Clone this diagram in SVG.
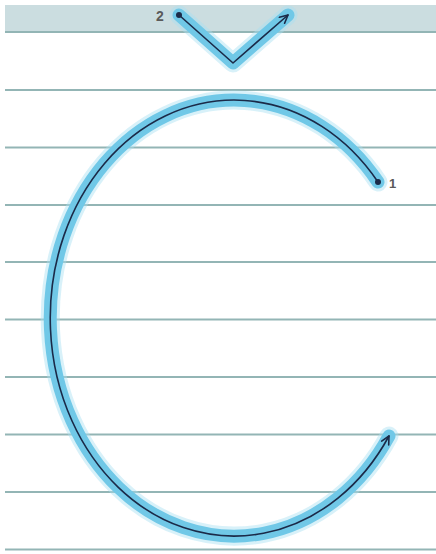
<svg xmlns="http://www.w3.org/2000/svg" width="436" height="554" viewBox="0 0 436 554">
<style>
.rule{stroke:#93b5b5;stroke-width:2;fill:none}
.halo{stroke:#a9dff2;stroke-width:19;fill:none;stroke-linecap:round;stroke-linejoin:round;opacity:0.45}
.glow{stroke:#70c8e7;stroke-width:13;fill:none;stroke-linecap:round;stroke-linejoin:round}
.ink{stroke:#1b2a48;stroke-width:1.6;fill:none;stroke-linecap:round;stroke-linejoin:round}
.lbl{font-family:"Liberation Sans",Arial,sans-serif;fill:#5a5a5a;font-weight:bold}
</style>
<defs>
<marker id="arr" viewBox="0 0 10 10" refX="9" refY="5" markerWidth="10" markerHeight="10" orient="auto" markerUnits="userSpaceOnUse">
<path d="M1,1 L9,5 L1,9" fill="none" stroke="#1b2a48" stroke-width="1.6" stroke-linecap="round" stroke-linejoin="round"/>
</marker>
</defs>
<rect width="436" height="554" fill="#ffffff"/>
<g id="ruling">
<rect x="5" y="5" width="431" height="27" fill="#cbdde0"/>
<line class="rule" x1="5" y1="32" x2="436" y2="32"/>
<line class="rule" x1="5" y1="90" x2="436" y2="90"/>
<line class="rule" x1="5" y1="147.5" x2="436" y2="147.5"/>
<line class="rule" x1="5" y1="205" x2="436" y2="205"/>
<line class="rule" x1="5" y1="262" x2="436" y2="262"/>
<line class="rule" x1="5" y1="319.5" x2="436" y2="319.5"/>
<line class="rule" x1="5" y1="377" x2="436" y2="377"/>
<line class="rule" x1="5" y1="434.5" x2="436" y2="434.5"/>
<line class="rule" x1="5" y1="492" x2="436" y2="492"/>
<line class="rule" x1="5" y1="549.5" x2="436" y2="549.5"/>
</g>
<g id="stroke-1">
<path class="halo" d="M378 182 A184 218 0 1 0 389 436"/>
<path class="glow" d="M378 182 A184 218 0 1 0 389 436"/>
<path class="ink" d="M378 182 A184 218 0 1 0 389 436" marker-end="url(#arr)"/>
<circle cx="378" cy="182" r="3" fill="#1b2a48"/>
<text class="lbl" x="389" y="188" font-size="13">1</text>
</g>
<g id="stroke-2">
<path class="halo" d="M179 15 L233 63 L288 15"/>
<path class="glow" d="M179 15 L233 63 L288 15"/>
<path class="ink" d="M179 15 L233 63 L288 15" marker-end="url(#arr)"/>
<circle cx="179" cy="15" r="3" fill="#1b2a48"/>
<text class="lbl" x="156" y="21" font-size="14">2</text>
</g>
</svg>
